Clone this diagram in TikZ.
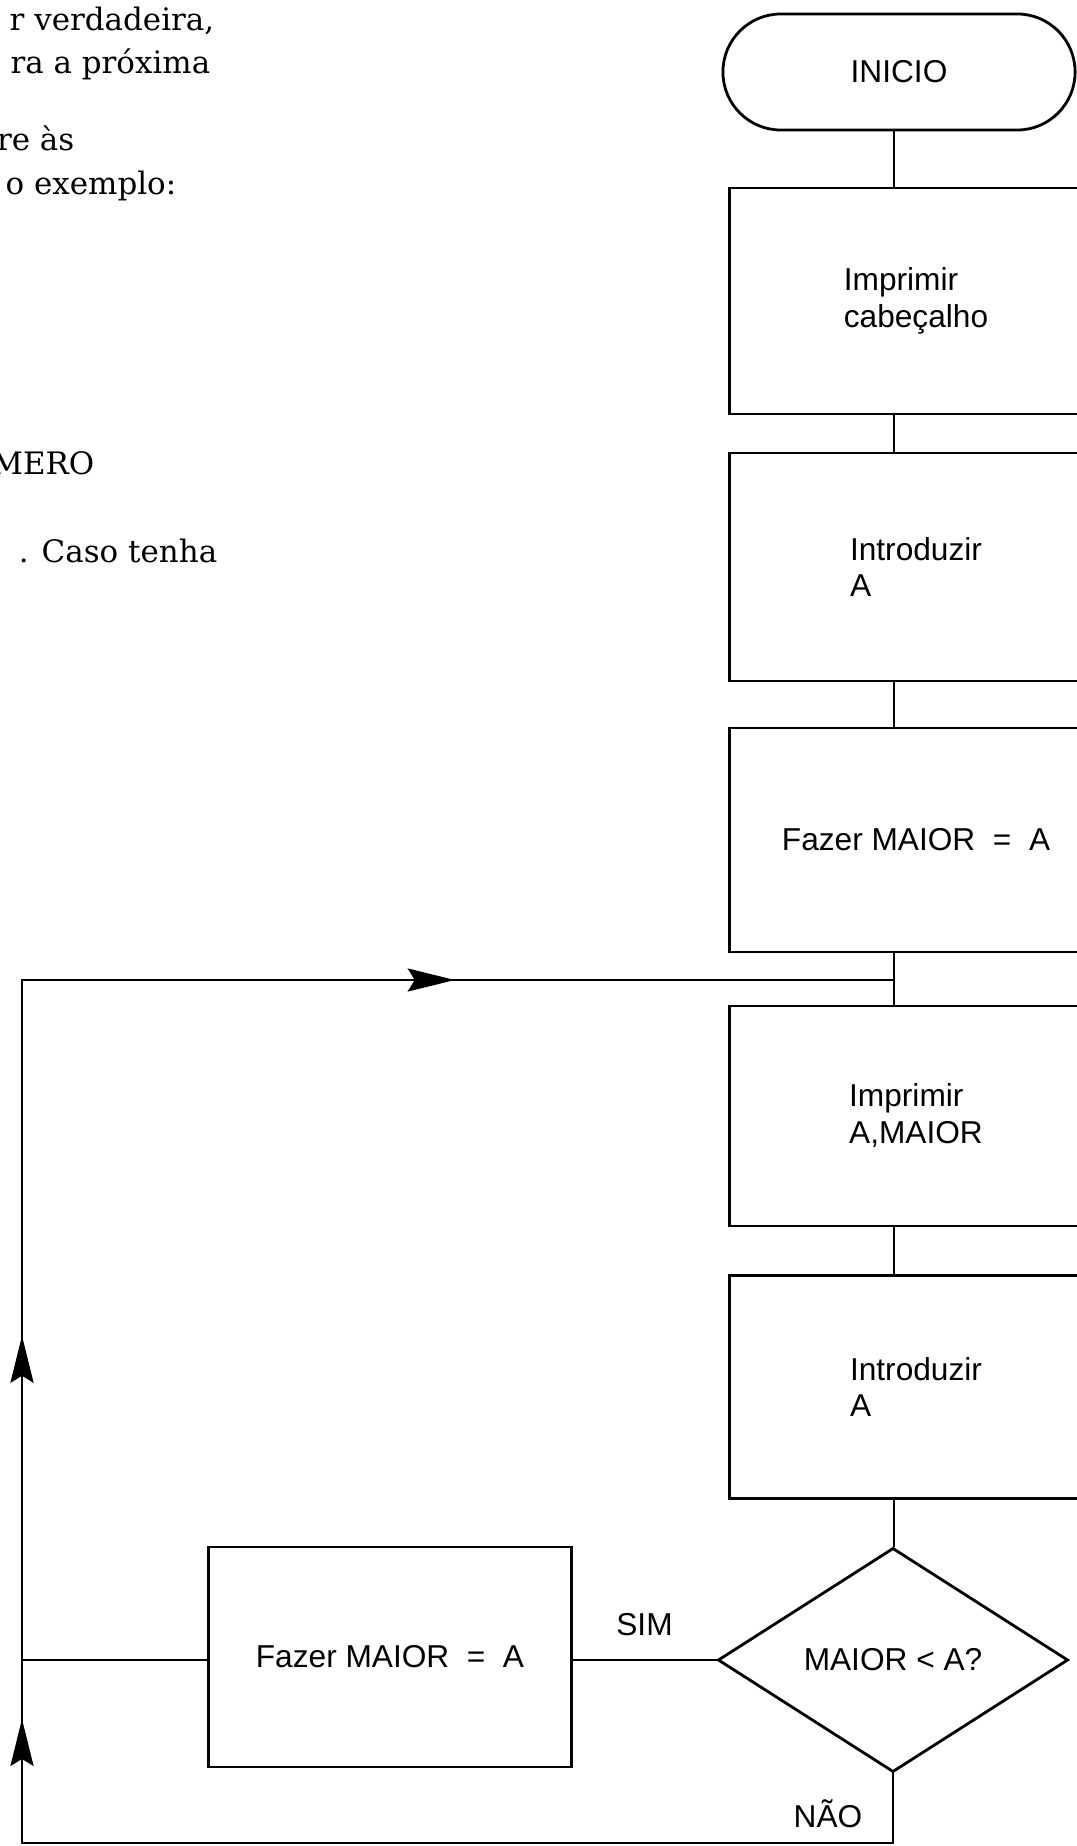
\documentclass[tikz,border=0pt]{standalone}
\usepackage{fontspec}
\setmainfont{DejaVu Serif}
\newfontfamily\flowfont{Liberation Sans}
\usetikzlibrary{shapes.geometric,arrows.meta,decorations.markings}

\tikzset{
  flowline/.style={line width=0.8pt},
  looptip/.tip={Stealth[length=4.7mm,width=2.3mm,inset=0.7mm]},
  chartfont/.style={font=\flowfont\fontsize{9}{10.5}\selectfont},
  termbox/.style={draw, line width=0.8pt, rounded corners=0.58cm, chartfont,
                  minimum width=3.52cm, minimum height=1.16cm},
  procbox/.style={draw, line width=0.8pt, chartfont, align=left,
                  minimum width=3.72cm},
  decbox/.style={draw, diamond, line width=0.8pt, chartfont, inner sep=0pt,
                 minimum width=3.50cm, minimum height=2.24cm},
  bookline/.style={anchor=base east, inner sep=0pt, font=\fontsize{8.8}{10.5}\selectfont},
}

\begin{document}
\begin{tikzpicture}[x=0.01cm,y=-0.01cm]
\useasboundingbox (0,0) rectangle (1077,1846);
\clip (0,0) rectangle (1077,1846);
% page text
\node[bookline] (para1) at (215,31)  {r verdadeira,};
\node[bookline] (para2) at (211,74)  {ra a próxima};
\node[bookline] (para3) at (75,151)  {re às};
\node[bookline] (para4) at (177,195) {o exemplo:};
\node[bookline] (para5) at (95,475)  {MERO};
\node[bookline] (para6) at (218,563) {. Caso tenha};
% main column
\coordinate (trunk) at (894,0);
\node[termbox] (inicio) at (899,72) {INICIO};
\node[procbox, minimum height=2.26cm] (cabec)  at (916,301)  {Imprimir\\cabeçalho};
\node[procbox, minimum height=2.28cm] (entra1) at (916,567)  {Introduzir\\A};
\node[procbox, minimum height=2.24cm] (maior1) at (916,840)  {Fazer MAIOR ~=~ A};
\node[procbox, minimum height=2.20cm] (saida)  at (916,1116) {Imprimir\\A,MAIOR};
\node[procbox, minimum height=2.23cm] (entra2) at (916,1387) {Introduzir\\A};
\node[decbox] (teste) at (893,1660) {MAIOR < A?};
\node[procbox, minimum width=3.62cm, minimum height=2.20cm] (maior2) at (390,1657) {Fazer MAIOR ~=~ A};
\foreach \a/\b in {inicio/cabec, cabec/entra1, entra1/maior1, maior1/saida, saida/entra2, entra2/teste}
  \draw[flowline] (\a.south -| trunk) -- (\b.north -| trunk);
% loop back
\coordinate (botleft) at (22,1843);
\coordinate (topleft) at (22,980);
\coordinate (merge) at (trunk |- topleft);
\draw[flowline] (maior2.east |- teste.west) -- (teste.west) node[midway, above=0.23cm, inner sep=0pt, chartfont] (sim) {SIM};
\draw[flowline] (maior2.west |- teste.west) -- (teste.west -| botleft);
\draw[flowline, postaction=decorate, decoration={markings,
    mark=at position 10.64cm with {\arrow{looptip}},
    mark=at position 14.47cm with {\arrow{looptip}},
    mark=at position 22.35cm with {\arrow{looptip}}}]
  (teste.south) |- (botleft) -- (topleft) -- (merge);
\node[chartfont, anchor=east, inner sep=0pt] (nao) at ([xshift=-0.3cm, yshift=-0.4cm]teste.south) {NÃO};
\end{tikzpicture}
\end{document}
